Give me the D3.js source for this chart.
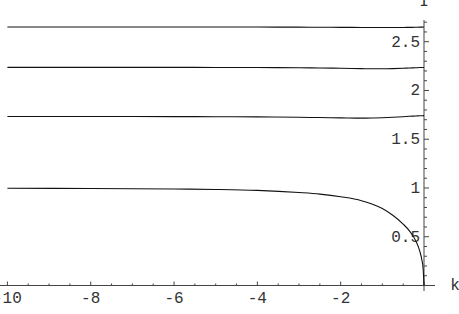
<!DOCTYPE html>
<html lang="en">
<head>
  <meta charset="UTF-8">
  <title>I versus k</title>
  <script src="https://d3js.org/d3.v7.min.js"></script>
  <style>
    body { margin: 0; background: #fff; }
    svg { display: block; }
    .tick-label { font-family: "Liberation Mono", "Courier New", monospace; font-size: 16px; fill: #333; }
    .curve { fill: none; stroke: #111; stroke-width: 1.1px; }
    .axis-line { stroke: #444; stroke-width: 1px; }
  </style>
</head>
<body>
  <svg id="chart"></svg>
  <script>
    // sample points along k
    const kValues = [-10, -8, -6, -5, -4, -3, -2.5, -2, -1.5, -1.25, -1, -0.75, -0.5, -0.35, -0.2, -0.1, -0.05, -0.02, 0];

    // four branches (top to bottom)
    const branch1 = [2.651, 2.651, 2.651, 2.650, 2.650, 2.649, 2.648, 2.647, 2.646, 2.645, 2.645, 2.645, 2.646, 2.647, 2.648, 2.649, 2.649, 2.650, 2.650];
    const branch2 = [2.237, 2.237, 2.237, 2.236, 2.235, 2.233, 2.231, 2.228, 2.224, 2.222, 2.222, 2.224, 2.228, 2.231, 2.233, 2.235, 2.236, 2.236, 2.236];
    const branch3 = [1.733, 1.733, 1.732, 1.731, 1.729, 1.725, 1.722, 1.719, 1.716, 1.717, 1.720, 1.725, 1.731, 1.735, 1.738, 1.740, 1.741, 1.742, 1.742];
    const branch4 = [0.997, 0.995, 0.990, 0.985, 0.975, 0.953, 0.937, 0.910, 0.870, 0.835, 0.790, 0.720, 0.630, 0.560, 0.460, 0.350, 0.260, 0.170, 0];

    const xTickValues = [-10, -8, -6, -4, -2];
    const yTickValues = [0.5, 1, 1.5, 2, 2.5];

    const width = 459, height = 314;

    const svg = d3.select("#chart")
      .attr("width", width)
      .attr("height", height);

    const x = d3.scaleLinear().domain([-10, 0]).range([7.4, 424]);
    const y = d3.scaleLinear().domain([0, 2.5]).range([285.5, 41.7]);

    const x0 = x(0), y0 = y(0);

    // axes lines
    svg.append("line").attr("class", "axis-line")
      .attr("x1", 0).attr("x2", 435)
      .attr("y1", y0).attr("y2", y0);
    svg.append("line").attr("class", "axis-line")
      .attr("x1", x0).attr("x2", x0)
      .attr("y1", 20).attr("y2", 291);

    // x ticks (minor every 0.5, major every 2)
    const xMinor = d3.range(-10, 0.001, 0.5);
    svg.selectAll(".xtick")
      .data(xMinor)
      .enter().append("line")
      .attr("class", "axis-line")
      .attr("x1", d => x(d)).attr("x2", d => x(d))
      .attr("y1", y0)
      .attr("y2", d => Math.abs(d % 2) < 1e-6 ? y0 - 4 : y0 - 2);

    // y ticks (minor every 0.1, major every 0.5)
    const yMinor = d3.range(0.1, 2.75, 0.1);
    svg.selectAll(".ytick")
      .data(yMinor)
      .enter().append("line")
      .attr("class", "axis-line")
      .attr("y1", d => y(d)).attr("y2", d => y(d))
      .attr("x1", x0)
      .attr("x2", d => Math.abs(Math.round(d * 10) % 5) === 0 ? x0 + 5 : x0 + 3);

    // tick labels
    svg.selectAll(".xlabel")
      .data(xTickValues)
      .enter().append("text")
      .attr("class", "tick-label")
      .attr("x", d => x(d))
      .attr("y", 303)
      .attr("text-anchor", "middle")
      .text(d => d);

    svg.selectAll(".ylabel")
      .data(yTickValues)
      .enter().append("text")
      .attr("class", "tick-label")
      .attr("x", x0 - 4)
      .attr("y", d => y(d) + 5)
      .attr("text-anchor", "end")
      .text(d => d);

    // axis names
    svg.append("text").attr("class", "tick-label")
      .attr("x", 455).attr("y", 290)
      .attr("text-anchor", "middle")
      .text("k");
    svg.append("text").attr("class", "tick-label")
      .attr("x", x0).attr("y", 6)
      .attr("text-anchor", "middle")
      .text("I");

    // curves
    const line = d3.line()
      .x(d => x(d[0]))
      .y(d => y(d[1]))
      .curve(d3.curveMonotoneX);

    [branch1, branch2, branch3, branch4].forEach(vals => {
      svg.append("path")
        .datum(kValues.map((k, i) => [k, vals[i]]))
        .attr("class", "curve")
        .attr("d", line);
    });
  </script>
</body>
</html>
